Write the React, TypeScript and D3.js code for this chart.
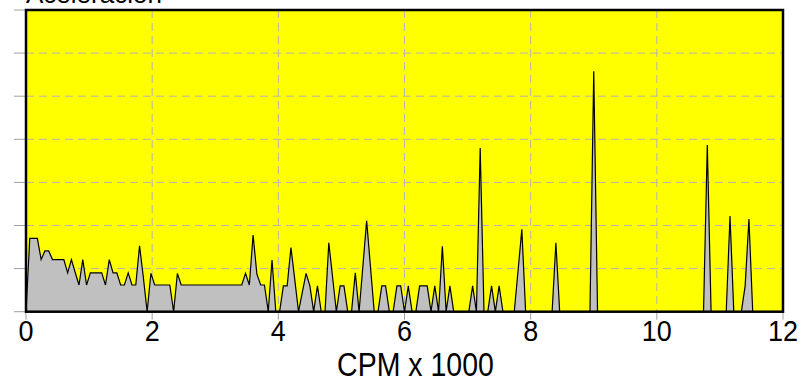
import React from "react";
import * as d3 from "d3";

const titleText = "Aceleración";
const xAxisLabel = "CPM x 1000";
const xTicks = [0, 2, 4, 6, 8, 10, 12];
const yTicks = [0, 1, 2, 3, 4, 5, 6, 7];
const stepKcpm = 0.06;
const amplitudes = [
  0, 1.7, 1.7, 1.7, 1.21, 1.41, 1.41, 1.21, 1.21, 1.21,
  1.21, 0.9, 1.21, 0.91, 0.62, 1.21, 0.62, 0.9, 0.9, 0.9,
  0.9, 0.62, 1.21, 0.9, 0.9, 0.62, 0.62, 0.9, 0.62, 0.62,
  1.53, 0.8, 0, 0.89, 0.62, 0.62, 0.62, 0.62, 0.62, 0,
  0.89, 0.62, 0.62, 0.62, 0.62, 0.62, 0.62, 0.62, 0.62, 0.62,
  0.62, 0.62, 0.62, 0.62, 0.62, 0.62, 0.62, 0.62, 0.89, 0.62,
  1.78, 0.87, 0.62, 0.62, 0, 1.2, 0, 0, 0.6, 0.6,
  1.49, 0.75, 0, 0.45, 0.89, 0.6, 0, 0.6, 0, 0,
  1.6, 0.8, 0, 0.6, 0.6, 0, 0, 0.9, 0, 1.05,
  2.11, 1.05, 0, 0, 0.6, 0.6, 0, 0, 0.6, 0.6,
  0, 0.6, 0, 0, 0.6, 0.6, 0.6, 0, 0.6, 0,
  1.52, 0, 0.6, 0, 0, 0, 0, 0, 0.6, 0,
  3.8, 0, 0, 0.6, 0, 0.6, 0, 0, 0, 0,
  0.95, 1.91, 0, 0, 0, 0, 0, 0, 0, 0,
  1.6, 0, 0, 0, 0, 0, 0, 0, 0, 0,
  5.58, 0, 0, 0, 0, 0, 0, 0, 0, 0,
  0, 0, 0, 0, 0, 0, 0, 0, 0, 0,
  0, 0, 0, 0, 0, 0, 0, 0, 0, 0,
  3.87, 0, 0, 0, 0, 0, 2.22, 0, 0, 0,
  0.6, 2.15, 0, 0, 0, 0, 0, 0, 0, 0,
  0,
];

const W = 806;
const H = 379;
const left = 26;
const right = 783;
const top = 10;
const bottom = 311.7;
const font = "'Liberation Sans', Arial, sans-serif";

export default function App() {
  const x = d3.scaleLinear().domain([0, 12]).range([left, right]);
  const y = d3.scaleLinear().domain([0, 7]).range([bottom, top]);
  const pts = amplitudes.map((v, i) => [i * stepKcpm, v] as [number, number]);
  const area = d3
    .area<[number, number]>()
    .x((d) => x(d[0]))
    .y0(y(0))
    .y1((d) => y(d[1]));
  const line = d3
    .line<[number, number]>()
    .x((d) => x(d[0]))
    .y((d) => y(d[1]));

  return (
    <svg
      width={W}
      height={H}
      style={{ position: "absolute", left: 0, top: 0, background: "#fff" }}
    >
      <rect x={left} y={top} width={right - left} height={bottom - top} fill="#ffff00" />
      {yTicks.slice(1, -1).map((t) => (
        <line key={"gy" + t} x1={left} x2={right} y1={y(t)} y2={y(t)} stroke="#b4b4b4" strokeDasharray="8,5" />
      ))}
      {xTicks.slice(1, -1).map((t) => (
        <line key={"gx" + t} x1={x(t)} x2={x(t)} y1={top} y2={bottom} stroke="#b4b4b4" strokeDasharray="8,5" />
      ))}
      {yTicks.map((t) => (
        <line key={"ty" + t} x1={14} x2={left} y1={y(t)} y2={y(t)} stroke="#a0a0a0" />
      ))}
      {xTicks.map((t) => (
        <line key={"tx" + t} x1={x(t)} x2={x(t)} y1={bottom} y2={bottom + 8} stroke="#a0a0a0" />
      ))}
      <path d={area(pts) || ""} fill="#c0c0c0" />
      <path d={line(pts) || ""} fill="none" stroke="#000" strokeWidth={1.2} />
      <rect x={left} y={top} width={right - left} height={bottom - top} fill="none" stroke="#000" strokeWidth={2.5} />
      {xTicks.map((t) => (
        <text
          key={"lx" + t}
          transform={`translate(${x(t)},341) scale(1,1.12)`}
          textAnchor="middle"
          fontFamily={font}
          fontSize={27}
          fill="#000"
        >
          {t}
        </text>
      ))}
      <text
        transform={`translate(${(left + right) / 2 + 11},375.5) scale(1,1.15)`}
        textAnchor="middle"
        fontFamily={font}
        fontSize={28.5}
        fill="#000"
      >
        {xAxisLabel}
      </text>
      <text x={26} y={3} fontFamily={font} fontSize={26} fill="#000">
        {titleText}
      </text>
    </svg>
  );
}
